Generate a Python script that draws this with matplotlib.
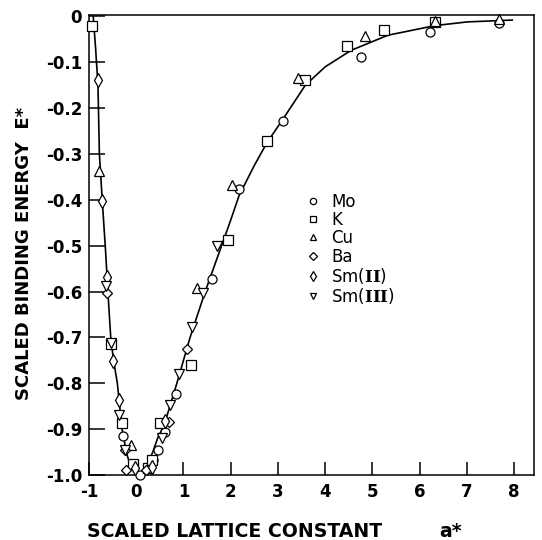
import matplotlib
matplotlib.use("Agg")
import matplotlib.pyplot as plt

plt.rcParams['font.family'] = ['DejaVu Sans']
plt.rcParams['axes.unicode_minus'] = False
plt.rcParams['mathtext.fontset'] = 'dejavuserif'

# universal binding energy curve
curve_x = [-0.91, -0.86, -0.81, -0.78, -0.72, -0.65, -0.60, -0.54, -0.48, -0.40, -0.30,
           -0.20, -0.10, 0.05, 0.20, 0.35, 0.47, 0.58, 0.86, 1.14, 1.46, 1.98, 2.18,
           2.50, 2.77, 3.10, 3.58, 4.00, 4.55, 5.33, 6.33, 7.01, 7.96]
curve_y = [0.0, -0.07, -0.15, -0.30, -0.40, -0.51, -0.60, -0.70, -0.75, -0.80, -0.90,
           -0.955, -0.985, -1.0, -0.985, -0.95, -0.915, -0.895, -0.80, -0.70, -0.60, -0.45, -0.39,
           -0.325, -0.275, -0.225, -0.15, -0.11, -0.074, -0.041, -0.020, -0.012, -0.008]

mo_x = [-0.28, 0.09, 0.35, 0.46, 0.60, 0.84, 1.60, 2.18, 3.10, 4.76, 6.21, 7.68]
mo_y = [-0.915, -1.0, -0.967, -0.946, -0.907, -0.824, -0.573, -0.376, -0.229, -0.089, -0.034, -0.015]

k_x = [-0.93, -0.53, -0.30, -0.07, 0.25, 0.33, 0.51, 1.16, 1.95, 2.77, 3.58, 4.47, 5.24, 6.33]
k_y = [-0.02, -0.715, -0.887, -0.977, -0.985, -0.967, -0.887, -0.760, -0.488, -0.272, -0.139, -0.065, -0.029, -0.012]

cu_x = [-0.78, -0.12, 1.28, 2.02, 3.43, 4.84, 6.33, 7.67]
cu_y = [-0.338, -0.935, -0.593, -0.367, -0.134, -0.043, -0.010, -0.005]

ba_x = [-0.62, -0.24, -0.22, 0.21, 0.69, 1.07]
ba_y = [-0.604, -0.946, -0.989, -0.989, -0.884, -0.726]

sm2_x = [-0.81, -0.72, -0.62, -0.49, -0.37, -0.03, 0.33, 0.60]
sm2_y = [-0.138, -0.402, -0.568, -0.752, -0.837, -0.985, -0.982, -0.882]

sm3_x = [-0.63, -0.53, -0.37, -0.23, 0.54, 0.72, 0.91, 1.19, 1.42, 1.70]
sm3_y = [-0.588, -0.712, -0.869, -0.946, -0.920, -0.847, -0.780, -0.678, -0.603, -0.501]

series = [
    ("Mo", mo_x, mo_y, "o", 6.5),
    ("K", k_x, k_y, "s", 6.5),
    ("Cu", cu_x, cu_y, "^", 7),
    ("Ba", ba_x, ba_y, "D", 5.5),
    (r"Sm($\mathbf{II}$)", sm2_x, sm2_y, "d", 7),
    (r"Sm($\mathbf{III}$)", sm3_x, sm3_y, "v", 7),
]

fig = plt.figure(figsize=(5.42, 5.40), dpi=100)
ax = fig.add_axes([0.1642, 0.1204, 0.8210, 0.8518])

ax.plot(curve_x, curve_y, color="black", lw=1.2, zorder=2)
for name, xs, ys, mk, ms in series:
    ax.plot(xs, ys, linestyle="none", marker=mk, ms=ms, mfc="white", mec="black",
            mew=0.9, label=name, clip_on=False, zorder=3)

ax.set_xlim(-1, 8.42)
ax.set_ylim(-1.0, 0.003)
ax.set_xticks(range(-1, 9))
ax.set_yticks([0, -0.1, -0.2, -0.3, -0.4, -0.5, -0.6, -0.7, -0.8, -0.9, -1.0])
ax.set_yticklabels(["0", "-0.1", "-0.2", "-0.3", "-0.4", "-0.5", "-0.6", "-0.7", "-0.8", "-0.9", "-1.0"])
ax.tick_params(axis="y", direction="in", length=11.5, width=1.1, labelsize=12, pad=5)
ax.tick_params(axis="x", direction="in", length=9.5, width=1.1, labelsize=12, pad=6)
for lab in ax.get_xticklabels() + ax.get_yticklabels():
    lab.set_fontweight("bold")
for sp in ax.spines.values():
    sp.set_linewidth(1.1)

ax.legend(loc="upper left", bbox_to_anchor=(0.465, 0.632), frameon=False,
          fontsize=12, markerscale=0.7, handlelength=1.0, handletextpad=0.6,
          labelspacing=0.02, borderpad=0)

fig.text(87 / 542, 3 / 540, "SCALED LATTICE CONSTANT", ha="left", va="baseline",
         fontsize=13.6, fontweight="bold")
fig.text(439 / 542, 3 / 540, "a*", ha="left", va="baseline",
         fontsize=13.6, fontweight="bold")
fig.text(0.045, 0.53, "SCALED BINDING ENERGY  E*", ha="center", va="center",
         rotation=90, fontsize=13, fontweight="bold")

fig.savefig("out.png", dpi=100)
